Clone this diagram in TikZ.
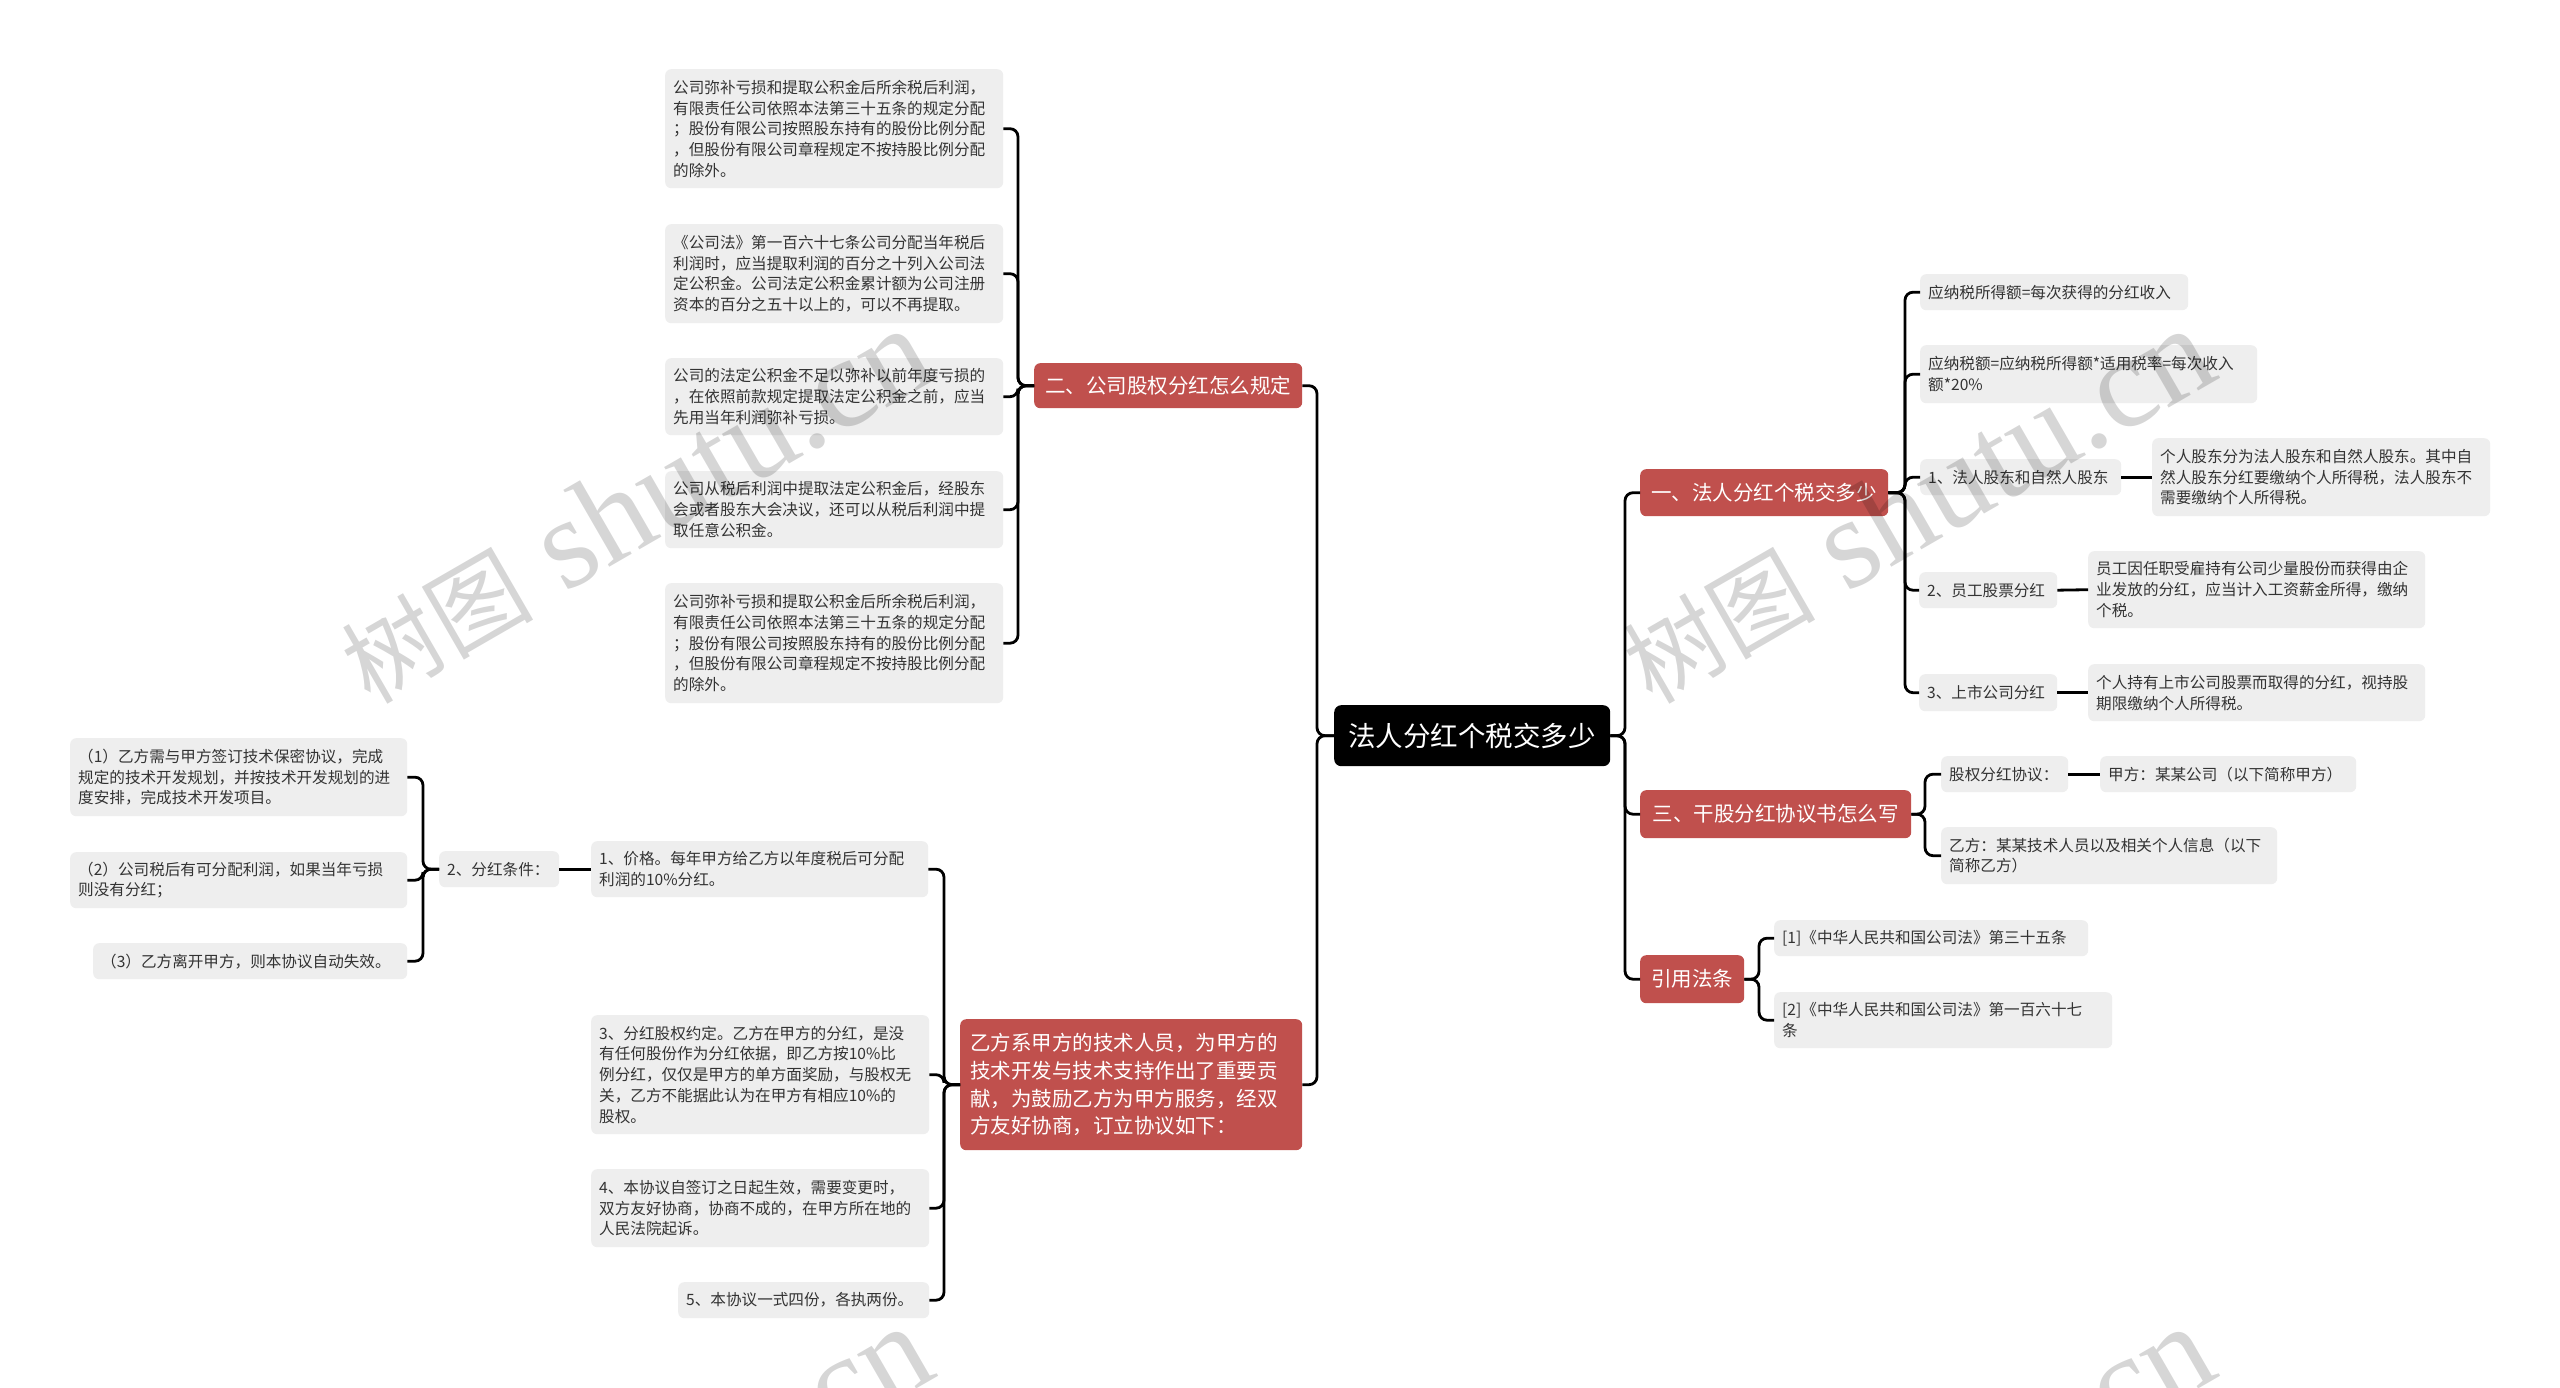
\documentclass[tikz,border=0pt]{standalone}
\usepackage{fontspec}
\setmainfont{Noto Sans CJK SC}
\newfontfamily\wmlatin{Liberation Serif}
\definecolor{brred}{RGB}{192,80,77}
\definecolor{leafbg}{RGB}{238,238,238}
\definecolor{leaftxt}{RGB}{51,51,51}
\begin{document}
\begin{tikzpicture}[x=1pt,y=-1pt,
  leaf/.style={fill=leafbg, rounded corners=6pt, anchor=north west, inner xsep=8pt, inner ysep=0pt, align=left, text=leaftxt, font=\fontsize{15.6pt}{20.7pt}\selectfont},
  rbox/.style={fill=brred, rounded corners=6pt, anchor=north west, text=white, inner sep=0pt, align=center, font=\fontsize{20.5pt}{27.7pt}\selectfont},
  rootbox/.style={fill=black, rounded corners=7pt, anchor=north west, text=white, inner sep=0pt, align=center, font=\fontsize{27.5pt}{30pt}\selectfont},
  conn/.style={draw=black, line width=2.8pt, rounded corners=8pt},
  wm/.style={text=black, text opacity=0.16, rotate=30, anchor=base west, inner sep=0pt}]
\useasboundingbox (0,0) rectangle (2560,1388);
\fill[white] (0,0) rectangle (2560,1388);

% trunk x positions
\coordinate (tL) at (1317,0);
\coordinate (tR) at (1625,0);
\coordinate (t2) at (1018,0);
\coordinate (tY) at (944,0);
\coordinate (tC) at (423,0);
\coordinate (t1) at (1905,0);
\coordinate (t3) at (1925,0);
\coordinate (t4) at (1759,0);

% root
\node[rootbox, minimum width=276pt, minimum height=61pt] (root) at (1334,705) {法人分红个税交多少};

% main branches
\node[rbox, minimum width=268pt, minimum height=45pt] (b2) at (1034,363) {二、公司股权分红怎么规定};
\node[rbox, minimum width=342pt, minimum height=131pt, align=left, text width=322pt, inner xsep=10pt] (bY) at (960,1019) {乙方系甲方的技术人员，为甲方的\\技术开发与技术支持作出了重要贡\\献，为鼓励乙方为甲方服务，经双\\方友好协商，订立协议如下：};
\node[rbox, minimum width=248pt, minimum height=47pt] (b1) at (1640,469) {一、法人分红个税交多少};
\node[rbox, minimum width=271pt, minimum height=48pt] (b3) at (1640,790) {三、干股分红协议书怎么写};
\node[rbox, minimum width=104pt, minimum height=48pt] (b4) at (1640,955) {引用法条};

% children of 二
\node[leaf, minimum width=338pt, minimum height=119pt, text width=322pt] (L1) at (665,69) {公司弥补亏损和提取公积金后所余税后利润，\\有限责任公司依照本法第三十五条的规定分配\\；股份有限公司按照股东持有的股份比例分配\\，但股份有限公司章程规定不按持股比例分配\\的除外。};
\node[leaf, minimum width=338pt, minimum height=99pt, text width=322pt] (L2) at (665,224) {《公司法》第一百六十七条公司分配当年税后\\利润时，应当提取利润的百分之十列入公司法\\定公积金。公司法定公积金累计额为公司注册\\资本的百分之五十以上的，可以不再提取。};
\node[leaf, minimum width=338pt, minimum height=77pt, text width=322pt] (L3) at (665,358) {公司的法定公积金不足以弥补以前年度亏损的\\，在依照前款规定提取法定公积金之前，应当\\先用当年利润弥补亏损。};
\node[leaf, minimum width=338pt, minimum height=77pt, text width=322pt] (L4) at (665,471) {公司从税后利润中提取法定公积金后，经股东\\会或者股东大会决议，还可以从税后利润中提\\取任意公积金。};
\node[leaf, minimum width=338pt, minimum height=120pt, text width=322pt] (L5) at (665,583) {公司弥补亏损和提取公积金后所余税后利润，\\有限责任公司依照本法第三十五条的规定分配\\；股份有限公司按照股东持有的股份比例分配\\，但股份有限公司章程规定不按持股比例分配\\的除外。};

% children of 乙方系
\node[leaf, minimum width=337pt, minimum height=56pt, text width=321pt] (M1) at (591,841) {1、价格。每年甲方给乙方以年度税后可分配\\利润的10\%分红。};
\node[leaf, minimum width=338pt, minimum height=119pt, text width=322pt] (M3) at (591,1015) {3、分红股权约定。乙方在甲方的分红，是没\\有任何股份作为分红依据，即乙方按10\%比\\例分红，仅仅是甲方的单方面奖励，与股权无\\关，乙方不能据此认为在甲方有相应10\%的\\股权。};
\node[leaf, minimum width=338pt, minimum height=78pt, text width=322pt] (M4) at (591,1169) {4、本协议自签订之日起生效，需要变更时，\\双方友好协商，协商不成的，在甲方所在地的\\人民法院起诉。};
\node[leaf, minimum width=251pt, minimum height=36pt, text width=235pt] (M5) at (678,1282) {5、本协议一式四份，各执两份。};
\node[leaf, minimum width=120pt, minimum height=36pt, text width=104pt] (Cond) at (439,851) {2、分红条件：};
\node[leaf, minimum width=337pt, minimum height=78pt, text width=321pt] (C1) at (70,738) {（1）乙方需与甲方签订技术保密协议，完成\\规定的技术开发规划，并按技术开发规划的进\\度安排，完成技术开发项目。};
\node[leaf, minimum width=337pt, minimum height=56pt, text width=321pt] (C2) at (70,852) {（2）公司税后有可分配利润，如果当年亏损\\则没有分红；};
\node[leaf, minimum width=314pt, minimum height=36pt, text width=298pt] (C3) at (93,943) {（3）乙方离开甲方，则本协议自动失效。};

% children of 一
\node[leaf, minimum width=268pt, minimum height=36pt, text width=252pt] (R1) at (1920,274) {应纳税所得额=每次获得的分红收入};
\node[leaf, minimum width=337pt, minimum height=58pt, text width=321pt] (R2) at (1920,345) {应纳税额=应纳税所得额*适用税率=每次收入\\额*20\%};
\node[leaf, minimum width=201pt, minimum height=36pt, text width=185pt] (R3) at (1920,459) {1、法人股东和自然人股东};
\node[leaf, minimum width=338pt, minimum height=78pt, text width=322pt] (R3c) at (2152,438) {个人股东分为法人股东和自然人股东。其中自\\然人股东分红要缴纳个人所得税，法人股东不\\需要缴纳个人所得税。};
\node[leaf, minimum width=138pt, minimum height=36pt, text width=122pt] (R4) at (1919,572) {2、员工股票分红};
\node[leaf, minimum width=337pt, minimum height=77pt, text width=321pt] (R4c) at (2088,551) {员工因任职受雇持有公司少量股份而获得由企\\业发放的分红，应当计入工资薪金所得，缴纳\\个税。};
\node[leaf, minimum width=138pt, minimum height=37pt, text width=122pt] (R5) at (1919,674) {3、上市公司分红};
\node[leaf, minimum width=337pt, minimum height=57pt, text width=321pt] (R5c) at (2088,664) {个人持有上市公司股票而取得的分红，视持股\\期限缴纳个人所得税。};

% children of 三
\node[leaf, minimum width=127pt, minimum height=36pt, text width=111pt] (S1) at (1941,756) {股权分红协议：};
\node[leaf, minimum width=256pt, minimum height=36pt, text width=240pt] (S1c) at (2100,756) {甲方：某某公司（以下简称甲方）};
\node[leaf, minimum width=336pt, minimum height=57pt, text width=320pt] (S2) at (1941,827) {乙方：某某技术人员以及相关个人信息（以下\\简称乙方）};

% children of 引用法条
\node[leaf, minimum width=314pt, minimum height=36pt, text width=298pt] (T1) at (1774,920) {[1]《中华人民共和国公司法》第三十五条};
\node[leaf, minimum width=338pt, minimum height=56pt, text width=322pt] (T2) at (1774,992) {[2]《中华人民共和国公司法》第一百六十七\\条};

% connectors: root
\draw[conn] (b2.east) -- (b2.east -| tL) -- (root.west -| tL) -- (root.west);
\draw[conn] (bY.east) -- (bY.east -| tL) -- (root.west -| tL) -- (root.west);
\draw[conn] (root.east) -- (root.east -| tR) -- (b1.west -| tR) -- (b1.west);
\draw[conn] (root.east) -- (root.east -| tR) -- (b3.west -| tR) -- (b3.west);
\draw[conn] (root.east) -- (root.east -| tR) -- (b4.west -| tR) -- (b4.west);

% connectors: 二
\foreach \c in {L1,L2,L3,L4,L5}
  \draw[conn] (\c.east) -- (\c.east -| t2) -- (b2.west -| t2) -- (b2.west);

% connectors: 乙方系
\foreach \c in {M1,M3,M4,M5}
  \draw[conn] (\c.east) -- (\c.east -| tY) -- (bY.west -| tY) -- (bY.west);
\draw[conn] (Cond.east) -- (M1.west);
\foreach \c in {C1,C2,C3}
  \draw[conn] (\c.east) -- (\c.east -| tC) -- (Cond.west -| tC) -- (Cond.west);

% connectors: 一
\foreach \c in {R1,R2,R3,R4,R5}
  \draw[conn] (b1.east) -- (b1.east -| t1) -- (\c.west -| t1) -- (\c.west);
\draw[conn] (R3.east) -- (R3c.west);
\draw[conn] (R4.east) -- (R4c.west);
\draw[conn] (R5.east) -- (R5c.west);

% connectors: 三
\foreach \c in {S1,S2}
  \draw[conn] (b3.east) -- (b3.east -| t3) -- (\c.west -| t3) -- (\c.west);
\draw[conn] (S1.east) -- (S1c.west);

% connectors: 引用法条
\foreach \c in {T1,T2}
  \draw[conn] (b4.east) -- (b4.east -| t4) -- (\c.west -| t4) -- (\c.west);

% watermarks
\begin{scope}
\clip (0,0) rectangle (2560,1388);
\foreach \dx/\dy in {0/0, 1282/0, 0/998, 1282/998}
  \node[wm] (wm\dx\dy) at (370+\dx,706+\dy) {{\fontsize{96pt}{96pt}\selectfont 树图}{\wmlatin\fontsize{129pt}{129pt}\selectfont\ shutu.cn}};
\end{scope}
\end{tikzpicture}
\end{document}
